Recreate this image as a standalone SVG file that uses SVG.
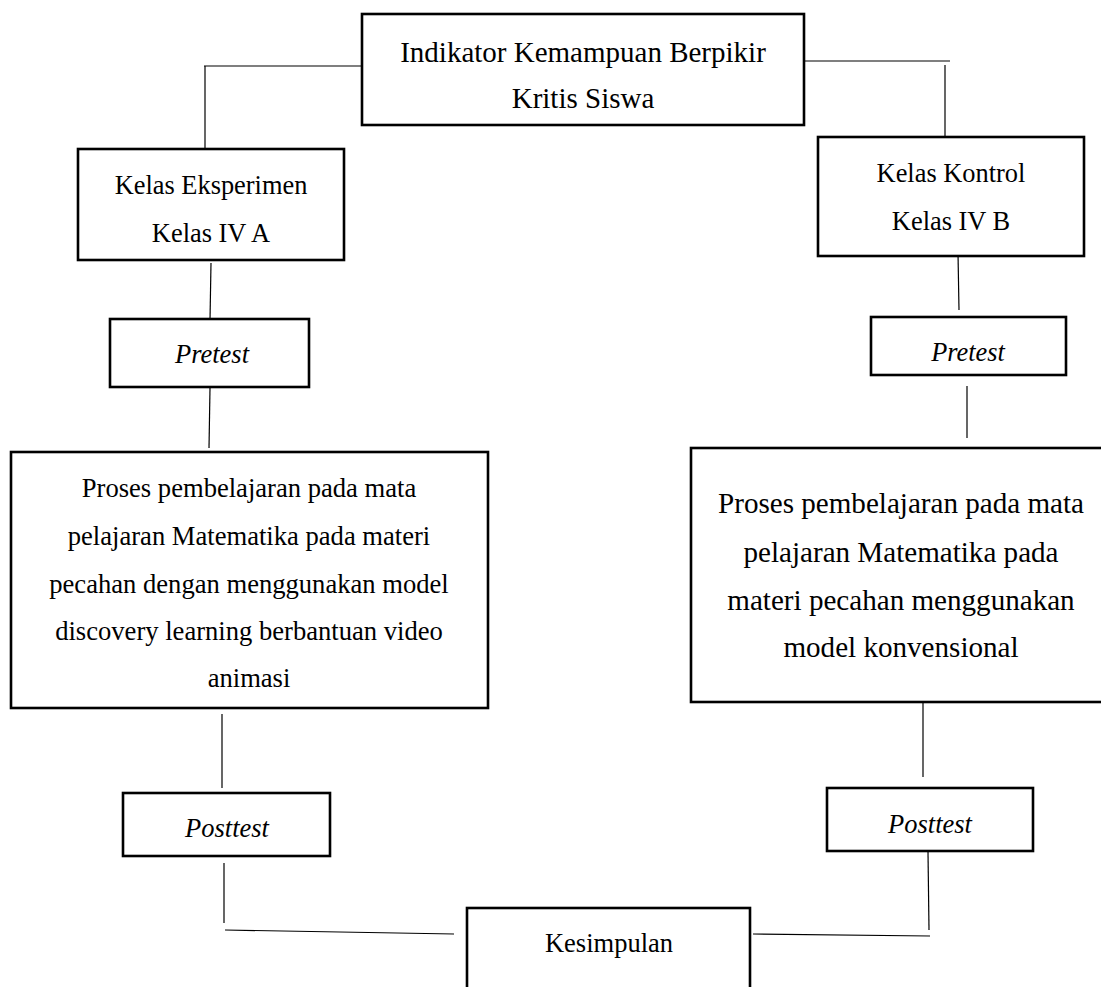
<svg xmlns="http://www.w3.org/2000/svg" width="1101" height="987" viewBox="0 0 1101 987">
<style>
.box{fill:#fff;stroke:#000;stroke-width:2.6}
.t{font-family:"Liberation Serif","Times New Roman",serif;fill:#000;text-anchor:middle}
.i{font-style:italic}
.c line{stroke:#000;stroke-width:1.2;fill:none}
</style>
<rect width="1101" height="987" fill="#fff"/>
<g class="c" id="connectors">
<line x1="362" y1="66" x2="204" y2="66"/>
<line x1="205" y1="66" x2="205" y2="148"/>
<line x1="804" y1="61" x2="950" y2="61"/>
<line x1="945" y1="65" x2="945" y2="137"/>
<line x1="211" y1="263" x2="210" y2="320"/>
<line x1="210" y1="388" x2="209" y2="448"/>
<line x1="222" y1="714" x2="222" y2="788"/>
<line x1="224" y1="863" x2="224" y2="923"/>
<line x1="225" y1="930" x2="454" y2="934"/>
<line x1="958" y1="253" x2="959" y2="310"/>
<line x1="967" y1="386" x2="967" y2="438"/>
<line x1="923" y1="697" x2="923" y2="777"/>
<line x1="928" y1="852" x2="929" y2="930"/>
<line x1="753" y1="934" x2="930" y2="936"/>
</g>
<g id="node-indikator">
<rect class="box" x="362" y="14" width="442" height="111"/>
<text class="t" font-size="29" x="583" y="62">Indikator Kemampuan Berpikir</text>
<text class="t" font-size="29" x="583" y="108">Kritis Siswa</text>
</g>
<g id="node-eksperimen">
<rect class="box" x="78" y="149" width="266" height="111"/>
<text class="t" font-size="26.4" x="211" y="194">Kelas Eksperimen</text>
<text class="t" font-size="26.4" x="211" y="242">Kelas IV A</text>
</g>
<g id="node-kontrol">
<rect class="box" x="818" y="137" width="266" height="119"/>
<text class="t" font-size="26.4" x="951" y="182">Kelas Kontrol</text>
<text class="t" font-size="26.4" x="951" y="230">Kelas IV B</text>
</g>
<g id="node-pretest-a">
<rect class="box" x="110" y="319" width="199" height="68"/>
<text class="t i" font-size="26.5" x="212" y="363">Pretest</text>
</g>
<g id="node-pretest-b">
<rect class="box" x="871" y="317" width="195" height="58"/>
<text class="t i" font-size="26.3" x="968" y="361">Pretest</text>
</g>
<g id="node-proses-a">
<rect class="box" x="11" y="452" width="477" height="256"/>
<text class="t" font-size="26.6" x="249" y="497">Proses pembelajaran pada mata</text>
<text class="t" font-size="26.6" x="249" y="545">pelajaran Matematika pada materi</text>
<text class="t" font-size="26.6" x="249" y="593">pecahan dengan menggunakan model</text>
<text class="t" font-size="26.6" x="249" y="640">discovery learning berbantuan video</text>
<text class="t" font-size="26.6" x="249" y="687">animasi</text>
</g>
<g id="node-proses-b">
<rect class="box" x="691" y="448" width="420" height="254"/>
<text class="t" font-size="29.1" x="901" y="513">Proses pembelajaran pada mata</text>
<text class="t" font-size="29.1" x="901" y="562">pelajaran Matematika pada</text>
<text class="t" font-size="29.1" x="901" y="610">materi pecahan menggunakan</text>
<text class="t" font-size="29.1" x="901" y="657">model konvensional</text>
</g>
<g id="node-posttest-a">
<rect class="box" x="123" y="793" width="207" height="63"/>
<text class="t i" font-size="26.5" x="227" y="837">Posttest</text>
</g>
<g id="node-posttest-b">
<rect class="box" x="827" y="788" width="206" height="63"/>
<text class="t i" font-size="26.5" x="930" y="833">Posttest</text>
</g>
<g id="node-kesimpulan">
<rect class="box" x="467" y="908" width="283" height="100"/>
<text class="t" font-size="26.5" x="609" y="952">Kesimpulan</text>
</g>
</svg>
